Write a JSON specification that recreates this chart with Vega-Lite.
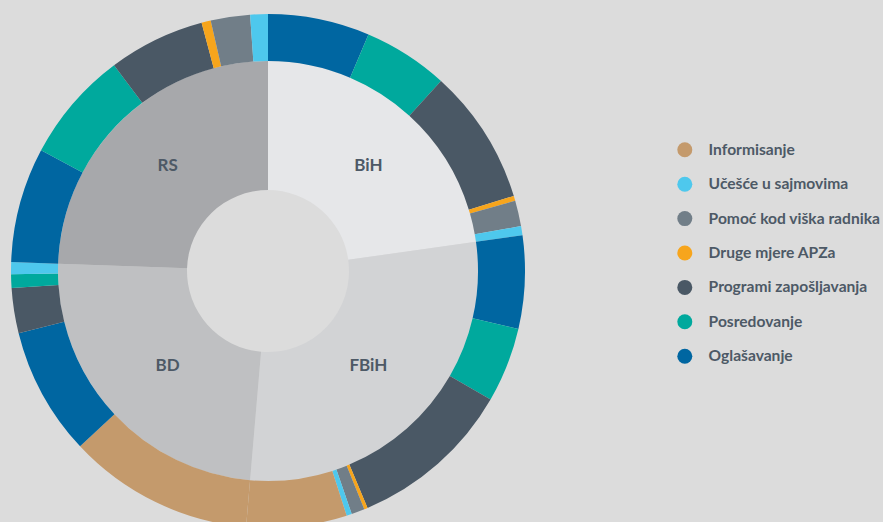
{
  "$schema": "https://vega.github.io/schema/vega-lite/v6.json",
  "width": 536,
  "height": 542,
  "autosize": {"type": "none"},
  "padding": {"left": 0, "top": 0, "right": 347, "bottom": -20},
  "background": "#dcdcdc",
  "config": {"view": {"stroke": null}},
  "datasets": {
    "inner": [
      {"seq": 1, "region": "BiH", "share": 22.78},
      {"seq": 2, "region": "FBiH", "share": 28.57},
      {"seq": 3, "region": "BD", "share": 24.19},
      {"seq": 4, "region": "RS", "share": 24.44}
    ],
    "outer": [
      {"seq": 1, "region": "BiH", "measure": "Oglašavanje", "share": 6.39},
      {"seq": 2, "region": "BiH", "measure": "Posredovanje", "share": 5.36},
      {"seq": 3, "region": "BiH", "measure": "Programi zapošljavanja", "share": 8.53},
      {"seq": 4, "region": "BiH", "measure": "Druge mjere APZa", "share": 0.31},
      {"seq": 5, "region": "BiH", "measure": "Pomoć kod viška radnika", "share": 1.61},
      {"seq": 6, "region": "BiH", "measure": "Učešće u sajmovima", "share": 0.58},
      {"seq": 7, "region": "FBiH", "measure": "Oglašavanje", "share": 5.83},
      {"seq": 8, "region": "FBiH", "measure": "Posredovanje", "share": 4.72},
      {"seq": 9, "region": "FBiH", "measure": "Programi zapošljavanja", "share": 10.33},
      {"seq": 10, "region": "FBiH", "measure": "Druge mjere APZa", "share": 0.22},
      {"seq": 11, "region": "FBiH", "measure": "Pomoć kod viška radnika", "share": 0.83},
      {"seq": 12, "region": "FBiH", "measure": "Učešće u sajmovima", "share": 0.33},
      {"seq": 13, "region": "FBiH", "measure": "Informisanje", "share": 6.31},
      {"seq": 14, "region": "BD", "measure": "Informisanje", "share": 11.69},
      {"seq": 15, "region": "BD", "measure": "Oglašavanje", "share": 8.06},
      {"seq": 16, "region": "BD", "measure": "Programi zapošljavanja", "share": 2.83},
      {"seq": 17, "region": "BD", "measure": "Posredovanje", "share": 0.86},
      {"seq": 18, "region": "BD", "measure": "Učešće u sajmovima", "share": 0.75},
      {"seq": 19, "region": "RS", "measure": "Oglašavanje", "share": 7.22},
      {"seq": 20, "region": "RS", "measure": "Posredovanje", "share": 7.0},
      {"seq": 21, "region": "RS", "measure": "Programi zapošljavanja", "share": 6.06},
      {"seq": 22, "region": "RS", "measure": "Druge mjere APZa", "share": 0.58},
      {"seq": 23, "region": "RS", "measure": "Pomoć kod viška radnika", "share": 2.47},
      {"seq": 24, "region": "RS", "measure": "Učešće u sajmovima", "share": 1.11}
    ],
    "labels": [
      {"seq": 1, "region": "BiH", "w": 1},
      {"seq": 2, "region": "FBiH", "w": 1},
      {"seq": 3, "region": "BD", "w": 1},
      {"seq": 4, "region": "RS", "w": 1}
    ]
  },
  "layer": [
    {
      "data": {"name": "inner"},
      "mark": {"type": "arc", "radius": 210, "radius2": 81},
      "encoding": {
        "theta": {"field": "share", "type": "quantitative", "stack": true},
        "order": {"field": "seq", "type": "quantitative"},
        "color": {
          "field": "region",
          "type": "nominal",
          "scale": {"domain": ["BiH", "FBiH", "BD", "RS"], "range": ["#e6e7e9", "#d2d3d5", "#bfc0c2", "#a7a8ab"]},
          "legend": null
        }
      }
    },
    {
      "data": {"name": "outer"},
      "mark": {"type": "arc", "radius": 257, "radius2": 210},
      "encoding": {
        "theta": {"field": "share", "type": "quantitative", "stack": true},
        "order": {"field": "seq", "type": "quantitative"},
        "color": {
          "field": "measure",
          "type": "nominal",
          "scale": {
            "domain": ["Informisanje", "Učešće u sajmovima", "Pomoć kod viška radnika", "Druge mjere APZa", "Programi zapošljavanja", "Posredovanje", "Oglašavanje"],
            "range": ["#c49a6c", "#4ec8ed", "#717e88", "#f7a51c", "#4a5865", "#00a99d", "#0066a1"]
          },
          "legend": {
            "title": null,
            "orient": "none",
            "legendX": 677,
            "legendY": 142,
            "padding": 0,
            "symbolType": "circle",
            "symbolSize": 225,
            "symbolStrokeWidth": 0,
            "labelFont": "Lato",
            "labelFontSize": 15.6,
            "labelFontWeight": "bold",
            "labelColor": "#4d5966",
            "labelOffset": 16,
            "labelLimit": 300,
            "rowPadding": 17.4
          }
        }
      }
    },
    {
      "data": {"name": "labels"},
      "mark": {
        "type": "text",
        "radius": 142,
        "dy": -5,
        "font": "Lato",
        "fontSize": 17,
        "fontWeight": "bold",
        "color": "#4d5966"
      },
      "encoding": {
        "theta": {"field": "w", "type": "quantitative", "stack": true},
        "order": {"field": "seq", "type": "quantitative"},
        "text": {"field": "region", "type": "nominal"}
      }
    }
  ],
  "resolve": {"scale": {"theta": "independent", "color": "independent"}}
}
